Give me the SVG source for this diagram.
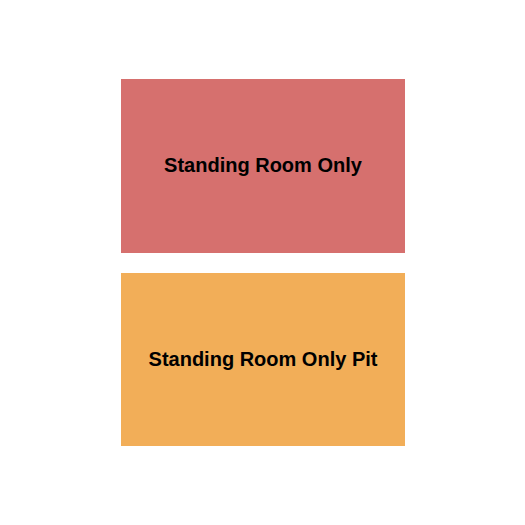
<svg xmlns="http://www.w3.org/2000/svg" width="525" height="525" viewBox="0 0 525 525">
<style>
.lbl{font-family:"Liberation Sans",Arial,sans-serif;font-weight:bold;font-size:20px;fill:#000;text-anchor:middle;dominant-baseline:central}
</style>
<rect width="525" height="525" fill="#fff"/>
<g id="sro">
<rect x="121" y="79" width="284" height="174" fill="#D6706E"/>
<text class="lbl" x="263" y="165">Standing Room Only</text>
</g>
<g id="sro-pit">
<rect x="121" y="273" width="284" height="173" fill="#F2AE58"/>
<text class="lbl" x="263" y="359">Standing Room Only Pit</text>
</g>
<g id="connectors"/>
</svg>
